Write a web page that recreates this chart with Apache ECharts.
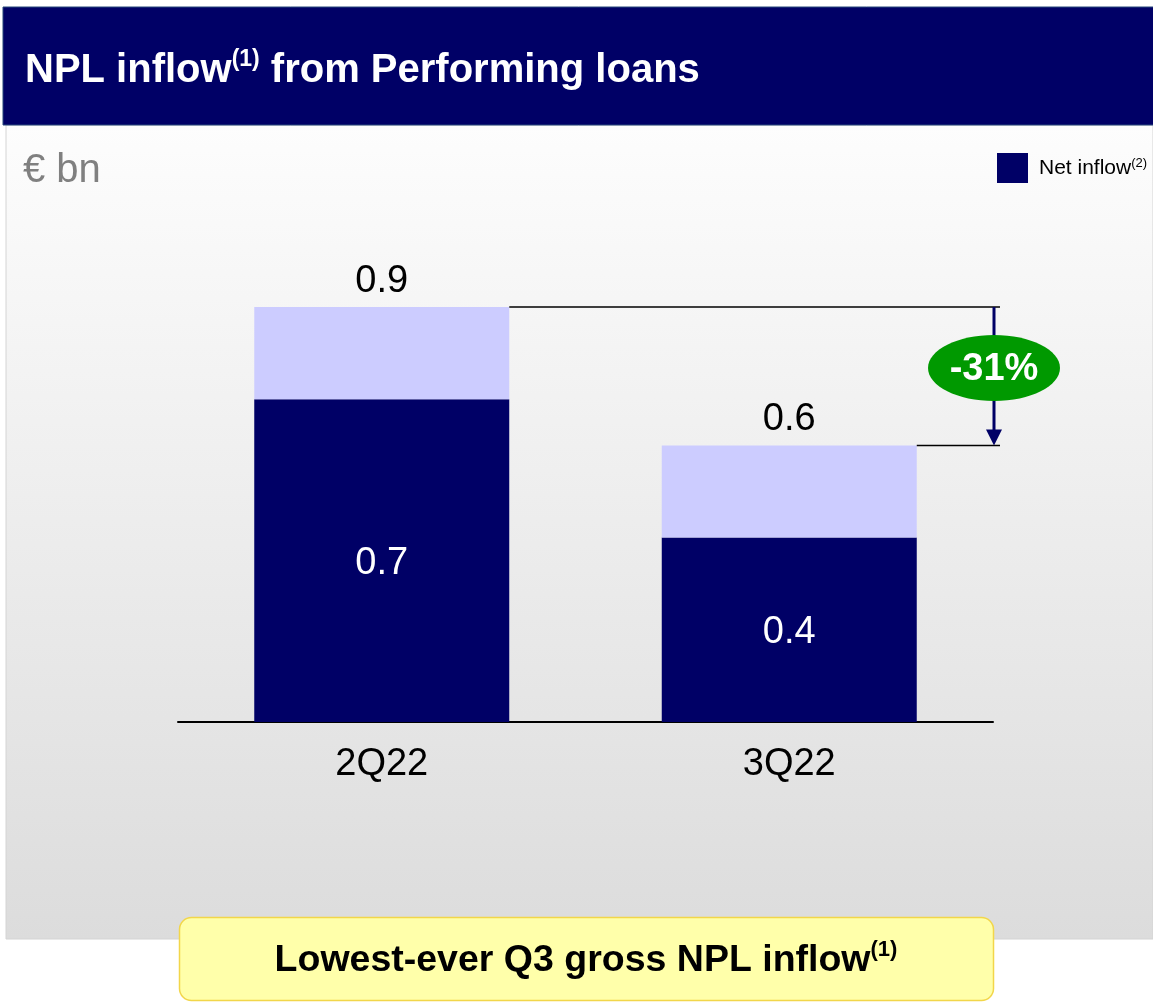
<!DOCTYPE html>
<html>
<head>
<meta charset="utf-8">
<style>
  html, body { margin: 0; padding: 0; background: #ffffff; }
  #chart { width: 1153px; height: 1002px; }
</style>
<script src="https://cdn.jsdelivr.net/npm/echarts@6/dist/echarts.min.js"></script>
</head>
<body>
<div id="chart"></div>
<script>
// Quarters and NPL inflow from performing loans (EUR bn)
const quarters = ['2Q22', '3Q22'];
const grossInflow = [0.9, 0.6];
const netInflow = [0.7, 0.4];
const changeLabel = '-31%';

// Upper (light) segment = gross minus net
const grossPart = grossInflow.map((g, i) => +(g - netInflow[i]).toFixed(2));

const FONT = '"Liberation Sans", Arial, sans-serif';
const NAVY = '#000066';
const LIGHT = '#ccccff';
const BAR_W = 255;

const chart = echarts.init(document.getElementById('chart'), null, { renderer: 'canvas' });

const option = {
  animation: false,
  backgroundColor: '#ffffff',
  title: {
    text: '{a|NPL inflow}{s|(1)}{a| from Performing loans}',
    left: 20,
    top: 43,
    textStyle: {
      rich: {
        a: { fontFamily: FONT, fontWeight: 'bold', fontSize: 40, color: '#ffffff', lineHeight: 46 },
        s: { fontFamily: FONT, fontWeight: 'bold', fontSize: 23, color: '#ffffff', verticalAlign: 'top', lineHeight: 46, padding: [0, 0, 15, 0] }
      }
    }
  },
  legend: {
    left: 992,
    top: 148,
    itemWidth: 31,
    itemHeight: 30,
    data: [{ name: 'Net inflow', icon: 'rect' }],
    formatter: () => '{a|Net inflow}{s|(2)}',
    textStyle: {
      rich: {
        a: { fontFamily: FONT, fontSize: 21, color: '#000000', padding: [0, 0, 0, 6] },
        s: { fontFamily: FONT, fontSize: 13, color: '#000000', verticalAlign: 'top', padding: [0, 0, 10, 0] }
      }
    }
  },
  grid: { left: 178, right: 160, top: 261, bottom: 280, containLabel: false },
  xAxis: {
    type: 'category',
    data: quarters,
    axisLine: { lineStyle: { color: '#000000', width: 2 } },
    axisTick: { show: false },
    axisLabel: { fontFamily: FONT, fontSize: 38, color: '#000000', margin: 24 }
  },
  yAxis: {
    type: 'value',
    min: 0,
    max: 1,
    show: false,
    splitLine: { show: false }
  },
  series: [
    {
      name: 'Net inflow',
      type: 'bar',
      stack: 'inflow',
      barWidth: BAR_W,
      data: netInflow,
      itemStyle: { color: NAVY },
      label: {
        show: true,
        position: 'inside',
        offset: [0, 3],
        fontFamily: FONT,
        fontSize: 38,
        color: '#ffffff',
        formatter: p => netInflow[p.dataIndex].toFixed(1)
      }
    },
    {
      name: 'Gross inflow',
      type: 'bar',
      stack: 'inflow',
      barWidth: BAR_W,
      data: grossPart,
      itemStyle: { color: LIGHT },
      label: {
        show: true,
        position: 'top',
        distance: 7,
        fontFamily: FONT,
        fontSize: 38,
        color: '#000000',
        formatter: p => grossInflow[p.dataIndex].toFixed(1)
      }
    }
  ]
};

chart.setOption(option);

// Decorations: header band, shaded panel, change bracket, takeaway box
function px(cat, val) {
  return chart.convertToPixel({ xAxisIndex: 0, yAxisIndex: 0 }, [cat, val]);
}
const p0 = px(0, grossInflow[0]);
const p1 = px(1, grossInflow[1]);
const bracketX = 994;
const lineEnd = 1000;
const headLen = 16;

chart.setOption({
  graphic: [
    {
      type: 'rect', z: -10, silent: true,
      shape: { x: 6, y: 125, width: 1147, height: 814 },
      style: {
        fill: new echarts.graphic.LinearGradient(0, 0, 0, 1, [
          { offset: 0, color: '#fdfdfd' },
          { offset: 1, color: '#dcdcdc' }
        ]),
        stroke: '#d4d4d4', lineWidth: 1
      }
    },
    {
      type: 'rect', z: -5, silent: true,
      shape: { x: 3, y: 7, width: 1152, height: 118 },
      style: { fill: NAVY, stroke: '#27477a', lineWidth: 1 }
    },
    {
      type: 'text', z: 5, silent: true,
      style: {
        text: '€ bn', x: 23, y: 171, fill: '#808080',
        font: '40px ' + FONT, textVerticalAlign: 'middle'
      }
    },
    // reference lines from bar tops
    {
      type: 'line', z: 5, silent: true,
      shape: { x1: p0[0] + BAR_W / 2, y1: p0[1], x2: lineEnd, y2: p0[1] },
      style: { stroke: '#000000', lineWidth: 1.5 }
    },
    {
      type: 'line', z: 5, silent: true,
      shape: { x1: p1[0] + BAR_W / 2, y1: p1[1], x2: lineEnd, y2: p1[1] },
      style: { stroke: '#000000', lineWidth: 1.5 }
    },
    // arrow
    {
      type: 'line', z: 6, silent: true,
      shape: { x1: bracketX, y1: p0[1], x2: bracketX, y2: p1[1] - headLen + 2 },
      style: { stroke: NAVY, lineWidth: 3 }
    },
    {
      type: 'polygon', z: 6, silent: true,
      shape: { points: [[bracketX - 8, p1[1] - headLen], [bracketX + 8, p1[1] - headLen], [bracketX, p1[1]]] },
      style: { fill: NAVY }
    },
    {
      type: 'ellipse', z: 7, silent: true,
      shape: { cx: bracketX, cy: 368, rx: 66, ry: 33 },
      style: { fill: '#009900' }
    },
    {
      type: 'text', z: 8, silent: true,
      style: {
        text: changeLabel, x: bracketX, y: 370, fill: '#ffffff',
        font: 'bold 38px ' + FONT, textAlign: 'center', textVerticalAlign: 'middle'
      }
    },
    // takeaway box
    {
      type: 'rect', z: 5, silent: true,
      shape: { x: 179.5, y: 917.5, width: 814, height: 83, r: 12 },
      style: { fill: '#ffffaa', stroke: '#f2d64a', lineWidth: 1.5 }
    },
    {
      type: 'text', z: 6, silent: true,
      style: {
        text: '{a|Lowest-ever Q3 gross NPL inflow}{s|(1)}',
        x: 586, y: 961,
        textAlign: 'center', textVerticalAlign: 'middle',
        rich: {
          a: { fontFamily: FONT, fontWeight: 'bold', fontSize: 37.5, fill: '#000000', lineHeight: 44 },
          s: { fontFamily: FONT, fontWeight: 'bold', fontSize: 22, fill: '#000000', verticalAlign: 'top', lineHeight: 44, padding: [0, 0, 13, 0] }
        }
      }
    }
  ]
});
</script>
</body>
</html>
